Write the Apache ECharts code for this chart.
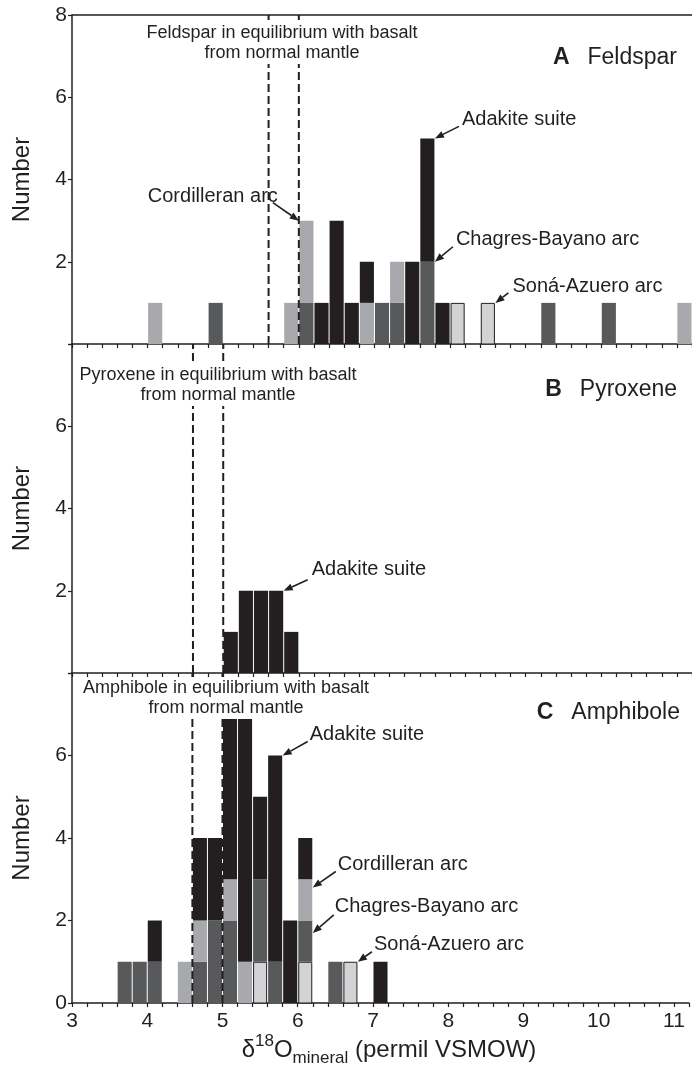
<!DOCTYPE html>
<html>
<head>
<meta charset="utf-8">
<script src="https://cdn.jsdelivr.net/npm/echarts@6.0.0/dist/echarts.min.js"></script>
<style>
  html, body { margin: 0; padding: 0; background: #fff; }
  #chart { width: 692px; height: 1067px; }
</style>
</head>
<body>
<div id="chart"></div>
<script>
// histogram bin width (permil)
const BIN = 0.2;

// A Feldspar
const feldsparBins        = [4.0, 4.8, 5.8, 6.0, 6.2, 6.4, 6.6, 6.8, 7.0, 7.2, 7.4, 7.6, 7.8, 8.0, 8.4, 9.2, 10.0, 11.0];
const feldsparSona        = [0, 0, 0, 0, 0, 0, 0, 0, 0, 0, 0, 0, 0, 1, 1, 0, 0, 0];
const feldsparChagres     = [0, 1, 0, 1, 0, 0, 0, 0, 1, 1, 0, 2, 0, 0, 0, 1, 1, 0];
const feldsparCordilleran = [1, 0, 1, 2, 0, 0, 0, 1, 0, 1, 0, 0, 0, 0, 0, 0, 0, 1];
const feldsparAdakite     = [0, 0, 0, 0, 1, 3, 1, 1, 0, 0, 2, 3, 1, 0, 0, 0, 0, 0];

// B Pyroxene
const pyroxeneBins        = [5.0, 5.2, 5.4, 5.6, 5.8];
const pyroxeneSona        = [0, 0, 0, 0, 0];
const pyroxeneChagres     = [0, 0, 0, 0, 0];
const pyroxeneCordilleran = [0, 0, 0, 0, 0];
const pyroxeneAdakite     = [1, 2, 2, 2, 1];

// C Amphibole
const amphiboleBins        = [3.6, 3.8, 4.0, 4.4, 4.6, 4.8, 5.0, 5.2, 5.4, 5.6, 5.8, 6.0, 6.4, 6.6, 7.0];
const amphiboleSona        = [0, 0, 0, 0, 0, 0, 0, 0, 1, 0, 0, 1, 0, 1, 0];
const amphiboleChagres     = [1, 1, 1, 0, 1, 2, 2, 0, 2, 1, 0, 1, 1, 0, 0];
const amphiboleCordilleran = [0, 0, 0, 1, 1, 0, 1, 1, 0, 0, 0, 1, 0, 0, 0];
const amphiboleAdakite     = [0, 0, 1, 0, 2, 2, 4, 6, 2, 5, 2, 1, 0, 0, 1];

// normal-mantle equilibrium range (dashed lines)
const mantleFeldspar  = [5.6, 6.0];
const mantlePyroxene  = [4.6, 5.0];
const mantleAmphibole = [4.6, 5.0];

// tick labels
const xTickLabels = [3, 4, 5, 6, 7, 8, 9, 10, 11];
const yLabelsA = [2, 4, 6, 8];
const yLabelsB = [2, 4, 6];
const yLabelsC = [0, 2, 4, 6];

const INK = '#231f20';
const FONT = '"Liberation Sans", Arial, Helvetica, sans-serif';

const groups = [
  { name: 'Soná-Azuero arc', style: { color: '#d1d3d4', borderColor: INK, borderWidth: 1 } },
  { name: 'Chagres-Bayano arc', style: { color: '#58595b' } },
  { name: 'Cordilleran arc', style: { color: '#a7a9ac' } },
  { name: 'Adakite suite', style: { color: INK } }
];

const panels = [
  { bins: feldsparBins, counts: [feldsparSona, feldsparChagres, feldsparCordilleran, feldsparAdakite],
    mantle: mantleFeldspar, yLabels: yLabelsA },
  { bins: pyroxeneBins, counts: [pyroxeneSona, pyroxeneChagres, pyroxeneCordilleran, pyroxeneAdakite],
    mantle: mantlePyroxene, yLabels: yLabelsB },
  { bins: amphiboleBins, counts: [amphiboleSona, amphiboleChagres, amphiboleCordilleran, amphiboleAdakite],
    mantle: mantleAmphibole, yLabels: yLabelsC }
];

function renderBar(params, api) {
  const p0 = api.coord([api.value(0), api.value(3)]);
  const p1 = api.coord([api.value(1), api.value(2)]);
  const style = api.style();
  const inset = style.stroke ? 1 : 0.5;
  return {
    type: 'rect',
    shape: { x: p0[0] + inset, y: p0[1] + (style.stroke ? 0.5 : 0),
             width: p1[0] - p0[0] - 2 * inset, height: p1[1] - p0[1] - (style.stroke ? 0.5 : 0) },
    style: style
  };
}

function renderDash(params, api) {
  const a = api.coord([api.value(0), 0]);
  const b = api.coord([api.value(0), 8]);
  return {
    type: 'line',
    shape: { x1: a[0], y1: a[1], x2: b[0], y2: b[1] },
    style: { stroke: INK, lineWidth: 2, lineDash: [8, 4] }
  };
}

const grids = [
  { left: 72, top: 15, width: 622, height: 329 },
  { left: 72, top: 344, width: 622, height: 329 },
  { left: 72, top: 673, width: 622, height: 330 }
];

const xAxes = panels.map((p, i) => ({
  gridIndex: i,
  type: 'value',
  min: 3,
  max: 11.2,
  interval: BIN,
  axisLine: { lineStyle: { color: INK, width: 1.5 } },
  axisTick: { length: 4, lineStyle: { color: INK, width: 1.2 } },
  splitLine: { show: false },
  axisLabel: {
    show: i === 2,
    margin: 8,
    color: INK,
    fontSize: 21,
    fontFamily: FONT,
    formatter: v => {
      const r = Math.round(v);
      return Math.abs(v - r) < 1e-6 && xTickLabels.includes(r) ? String(r) : '';
    }
  }
}));
// top frame line of panel A
xAxes.push({
  gridIndex: 0,
  type: 'value',
  position: 'top',
  min: 3,
  max: 11.2,
  axisLine: { show: true, lineStyle: { color: INK, width: 1.5 } },
  axisTick: { show: false },
  axisLabel: { show: false },
  splitLine: { show: false }
});

const yAxes = panels.map((p, i) => ({
  gridIndex: i,
  type: 'value',
  min: 0,
  max: 8,
  interval: 2,
  name: 'Number',
  nameLocation: 'middle',
  nameGap: 38,
  nameTextStyle: { color: INK, fontSize: 24, fontFamily: FONT },
  axisLine: { show: true, lineStyle: { color: INK, width: 1.5 } },
  axisTick: { show: true, length: 4, lineStyle: { color: INK, width: 1.2 } },
  splitLine: { show: false },
  axisLabel: {
    margin: 5,
    color: INK,
    fontSize: 21,
    fontFamily: FONT,
    formatter: v => (p.yLabels.includes(v) ? String(v) : '')
  }
}));

const series = [];
panels.forEach((p, i) => {
  const rows = groups.map(() => []);
  p.bins.forEach((start, k) => {
    let base = 0;
    p.counts.forEach((arr, g) => {
      const n = arr[k];
      if (n > 0) {
        rows[g].push([start, +(start + BIN).toFixed(2), base, base + n]);
        base += n;
      }
    });
  });
  groups.forEach((g, gi) => {
    series.push({
      type: 'custom',
      name: g.name,
      xAxisIndex: i,
      yAxisIndex: i,
      renderItem: renderBar,
      itemStyle: g.style,
      encode: { x: [0, 1], y: [2, 3] },
      data: rows[gi],
      z: 2
    });
  });
  series.push({
    type: 'custom',
    xAxisIndex: i,
    yAxisIndex: i,
    renderItem: renderDash,
    encode: { x: 0 },
    data: p.mantle.map(v => [v]),
    z: 3
  });
});

const chart = echarts.init(document.getElementById('chart'));
chart.setOption({
  backgroundColor: '#fff',
  animation: false,
  grid: grids,
  xAxis: xAxes,
  yAxis: yAxes,
  series: series
});

// annotations: arrow tips are data coordinates, text offsets in px from the tip
const notes = [
  { grid: 0, text: 'Cordilleran arc', tip: [6.0, 3], tail: [-26, -18], at: [-21, -24], align: 'right' },
  { grid: 0, text: 'Adakite suite', tip: [7.8, 5], tail: [24, -12], at: [27, -19], align: 'left' },
  { grid: 0, text: 'Chagres-Bayano arc', tip: [7.8, 2], tail: [18, -15], at: [21, -22], align: 'left' },
  { grid: 0, text: 'Soná-Azuero arc', tip: [8.6, 1], tail: [13, -10], at: [17, -16], align: 'left' },
  { grid: 1, text: 'Adakite suite', tip: [5.8, 2], tail: [24, -11], at: [28, -21], align: 'left' },
  { grid: 2, text: 'Adakite suite', tip: [5.8, 6], tail: [25, -14], at: [27, -21], align: 'left' },
  { grid: 2, text: 'Cordilleran arc', tip: [6.2, 2.8], tail: [23, -16], at: [25, -23], align: 'left' },
  { grid: 2, text: 'Chagres-Bayano arc', tip: [6.2, 1.7], tail: [21, -18], at: [22, -26], align: 'left' },
  { grid: 2, text: 'Soná-Azuero arc', tip: [6.8, 1], tail: [14, -10], at: [16, -17], align: 'left' }
];

const mantleText = [
  { grid: 0, mineral: 'Feldspar', pos: [282, 43] },
  { grid: 1, mineral: 'Pyroxene', pos: [218, 385] },
  { grid: 2, mineral: 'Amphibole', pos: [226, 698] }
];

const panelTitles = [
  { letter: 'A', name: 'Feldspar', pos: [677, 58] },
  { letter: 'B', name: 'Pyroxene', pos: [677, 390] },
  { letter: 'C', name: 'Amphibole', pos: [680, 713] }
];

const graphic = [];

notes.forEach(n => {
  const tip = chart.convertToPixel({ gridIndex: n.grid }, n.tip);
  const tail = [tip[0] + n.tail[0], tip[1] + n.tail[1]];
  const dx = tip[0] - tail[0], dy = tip[1] - tail[1];
  const len = Math.sqrt(dx * dx + dy * dy);
  const ux = dx / len, uy = dy / len;
  const head = 9, half = 3.6;
  const bx = tip[0] - ux * head, by = tip[1] - uy * head;
  graphic.push({
    type: 'line', z: 20,
    shape: { x1: tail[0], y1: tail[1], x2: bx, y2: by },
    style: { stroke: INK, lineWidth: 1.6 }
  });
  graphic.push({
    type: 'polygon', z: 20,
    shape: { points: [tip, [bx - uy * half, by + ux * half], [bx + uy * half, by - ux * half]] },
    style: { fill: INK }
  });
  graphic.push({
    type: 'text', z: 20,
    x: tip[0] + n.at[0], y: tip[1] + n.at[1],
    style: { text: n.text, fill: INK, font: '20px ' + FONT, textAlign: n.align, textVerticalAlign: 'middle' }
  });
});

mantleText.forEach(m => {
  graphic.push({
    type: 'text', z: 20,
    x: m.pos[0], y: m.pos[1],
    style: {
      text: m.mineral + ' in equilibrium with basalt\nfrom normal mantle',
      fill: INK, font: '18px ' + FONT, lineHeight: 20,
      textAlign: 'center', textVerticalAlign: 'middle',
      backgroundColor: '#fff', padding: [1, 3]
    }
  });
});

panelTitles.forEach(t => {
  graphic.push({
    type: 'text', z: 20,
    x: t.pos[0], y: t.pos[1],
    style: {
      text: '{b|' + t.letter + '}{n|' + t.name + '}',
      textAlign: 'right', textVerticalAlign: 'middle',
      rich: {
        b: { fontFamily: FONT, fontSize: 23, fontWeight: 'bold', fill: INK, padding: [0, 18, 0, 0] },
        n: { fontFamily: FONT, fontSize: 23, fill: INK }
      }
    }
  });
});

// x-axis title
graphic.push({
  type: 'text', z: 20,
  x: 389, y: 1050,
  style: {
    text: '{m|δ}{sup|18}{m|O}{sub|mineral}{m| (permil VSMOW)}',
    textAlign: 'center', textVerticalAlign: 'middle',
    rich: {
      m: { fontFamily: FONT, fontSize: 24, fill: INK, lineHeight: 34 },
      sup: { fontFamily: FONT, fontSize: 17, fill: INK, verticalAlign: 'top', lineHeight: 20 },
      sub: { fontFamily: FONT, fontSize: 17, fill: INK, verticalAlign: 'bottom', lineHeight: 20 }
    }
  }
});

chart.setOption({ graphic: graphic });
</script>
</body>
</html>
